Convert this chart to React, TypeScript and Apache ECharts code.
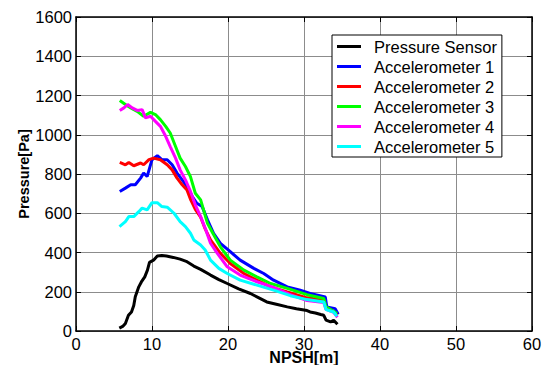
import React, { useEffect, useRef } from "react";
import * as echarts from "echarts";

const xTicks = { min: 0, max: 60, interval: 10 };
const yTicks = { min: 0, max: 1600, interval: 200 };

const seriesNames = [
  "Pressure Sensor",
  "Accelerometer 1",
  "Accelerometer 2",
  "Accelerometer 3",
  "Accelerometer 4",
  "Accelerometer 5",
];
const seriesColors = ["#000000", "#0000ff", "#ff0000", "#00ff00", "#ff00ff", "#00ffff"];

const pressureSensor = [
  [5.7, 15], [6.2, 25], [6.5, 38], [6.9, 80], [7.3, 97], [7.6, 130], [7.8, 174], [8.26, 225],
  [8.6, 250], [9.05, 276], [9.4, 310], [9.67, 350], [10.2, 361], [10.7, 382], [11.3, 385],
  [11.9, 382], [12.8, 375], [13.7, 366], [14.5, 355], [15.5, 331], [16.4, 314], [17.7, 285],
  [18.8, 262], [19.9, 242], [21.4, 215], [22.95, 191], [24.0, 170], [25.1, 148], [26.5, 135],
  [27.8, 123], [29.0, 113], [30.4, 104], [30.8, 97], [31.5, 92], [32.2, 84], [32.6, 80],
  [32.9, 55], [33.5, 46], [33.9, 55], [34.4, 34],
];
const accel1 = [
  [5.76, 711], [6.5, 728], [7.2, 745], [7.8, 745], [8.5, 779], [8.9, 805], [9.36, 787],
  [10.0, 873], [10.7, 893], [11.3, 873], [12.0, 873], [12.65, 847], [13.3, 805], [13.97, 770],
  [14.6, 736], [15.3, 685], [15.9, 651], [16.6, 634], [17.3, 566], [18.1, 498], [19.0, 447],
  [20.3, 404], [21.6, 361], [23.4, 319], [24.7, 293], [26.0, 259], [27.8, 225], [29.5, 208],
  [30.8, 191], [32.8, 174], [33.0, 123], [34.1, 114], [34.5, 85],
];
const accel2 = [
  [5.76, 859], [6.5, 847], [6.95, 859], [7.6, 842], [8.5, 856], [8.9, 847], [9.6, 873],
  [10.2, 881], [11.1, 873], [12.0, 847], [12.65, 821], [13.3, 779], [13.97, 745], [14.6, 719],
  [15.1, 668], [15.7, 620], [16.4, 580], [17.0, 520], [17.7, 464], [19.0, 396], [20.3, 344],
  [22.1, 293], [23.8, 259], [25.6, 225], [27.8, 199], [30.4, 169], [32.6, 157], [32.9, 115],
  [33.9, 100], [34.4, 80],
];
const accel3 = [
  [5.76, 1174], [6.5, 1154], [7.2, 1137], [8.05, 1119], [8.9, 1094], [9.8, 1114], [10.45, 1103],
  [11.1, 1077], [11.8, 1043], [12.4, 1009], [13.1, 940], [13.7, 881], [14.4, 838], [15.06, 787],
  [15.7, 702], [16.4, 668], [17.3, 549], [17.9, 506], [19.0, 429], [20.3, 361], [22.1, 310],
  [23.8, 276], [25.6, 242], [27.8, 217], [30.4, 185], [32.6, 166], [32.9, 123], [33.9, 100],
  [34.35, 89],
];
const accel4 = [
  [5.76, 1124], [6.3, 1137], [6.8, 1154], [7.4, 1137], [8.05, 1124], [8.7, 1128], [9.14, 1086],
  [9.8, 1094], [10.45, 1068], [11.1, 1043], [11.8, 992], [12.4, 940], [13.1, 881], [13.7, 821],
  [14.4, 770], [15.06, 711], [15.7, 643], [16.4, 583], [17.0, 523], [17.7, 447], [18.6, 396],
  [19.9, 327], [21.6, 285], [23.8, 251], [26.0, 222], [28.2, 185], [30.4, 155], [32.6, 145],
  [32.9, 110], [33.9, 95], [34.4, 70],
];
const accel5 = [
  [5.72, 532], [6.5, 557], [6.95, 583], [7.6, 583], [8.26, 608], [8.7, 626], [9.36, 617],
  [10.0, 654], [10.7, 654], [11.3, 634], [12.0, 631], [12.9, 600], [13.7, 557], [14.4, 532],
  [15.06, 498], [15.5, 464], [16.4, 438], [17.0, 413], [17.7, 361], [18.8, 319], [19.9, 293],
  [21.6, 259], [23.8, 234], [26.0, 208], [28.2, 180], [30.4, 160], [32.6, 148], [32.9, 109],
  [33.9, 97], [34.35, 75],
];
const seriesData = [pressureSensor, accel1, accel2, accel3, accel4, accel5];

const FONT = "'Liberation Sans', Arial, Helvetica, sans-serif";

export default function App() {
  const ref = useRef<HTMLDivElement>(null);
  useEffect(() => {
    if (!ref.current) return;
    const chart = echarts.init(ref.current, null, { renderer: "svg" });
    const axisLine = { show: true, onZero: false, lineStyle: { color: "#000", width: 1.5 } };
    const tickIn = { show: true, inside: true, length: 5, lineStyle: { color: "#000", width: 1 } };
    const plain = (v: number) => String(v);
    chart.setOption({
      animation: false,
      backgroundColor: "#ffffff",
      textStyle: { fontFamily: FONT },
      grid: {
        left: 76,
        right: 11,
        top: 17,
        bottom: 34,
        containLabel: false,
        outerBoundsMode: "none",
      },
      legend: {
        orient: "vertical",
        left: 332,
        top: 35,
        padding: [3, 5, 2, 5],
        itemGap: 3,
        itemWidth: 24,
        itemHeight: 3,
        backgroundColor: "#ffffff",
        borderColor: "#000",
        borderWidth: 1,
        borderRadius: 0,
        textStyle: { fontSize: 16.5, color: "#000", fontFamily: FONT, padding: [0, 0, 0, 8] },
        data: seriesNames.map((n) => ({ name: n, icon: "rect" })),
      },
      xAxis: [
        {
          type: "value",
          position: "bottom",
          ...xTicks,
          name: "NPSH[m]",
          nameLocation: "middle",
          nameGap: 18,
          nameMoveOverlap: false,
          nameTextStyle: { fontSize: 16, fontWeight: "bold", color: "#000", fontFamily: FONT },
          axisLine,
          axisTick: tickIn,
          axisLabel: { fontSize: 16.5, color: "#000", margin: 4, fontFamily: FONT, formatter: plain },
          splitLine: { show: true, lineStyle: { color: "#8c8c8c", width: 1 } },
        },
        {
          type: "value",
          position: "top",
          ...xTicks,
          axisLine,
          axisTick: tickIn,
          axisLabel: { show: false },
          splitLine: { show: false },
        },
      ],
      yAxis: [
        {
          type: "value",
          position: "left",
          ...yTicks,
          name: "Pressure[Pa]",
          nameLocation: "middle",
          nameGap: 45,
          nameMoveOverlap: false,
          nameTextStyle: { fontSize: 14.5, fontWeight: "bold", color: "#000", fontFamily: FONT },
          axisLine,
          axisTick: tickIn,
          axisLabel: { fontSize: 16.5, color: "#000", margin: 4, fontFamily: FONT, formatter: plain },
          splitLine: { show: true, lineStyle: { color: "#8c8c8c", width: 1 } },
        },
        {
          type: "value",
          position: "right",
          ...yTicks,
          axisLine,
          axisTick: tickIn,
          axisLabel: { show: false },
          splitLine: { show: false },
        },
      ],
      series: seriesNames.map((name, i) => ({
        name,
        type: "line",
        xAxisIndex: 0,
        yAxisIndex: 0,
        data: seriesData[i],
        showSymbol: false,
        symbol: "none",
        color: seriesColors[i],
        lineStyle: { color: seriesColors[i], width: 3 },
        z: 2 + i,
      })),
    });
    return () => chart.dispose();
  }, []);
  return (
    <div
      ref={ref}
      style={{ position: "fixed", left: 0, top: 0, width: 543, height: 365, background: "#fff" }}
    />
  );
}
